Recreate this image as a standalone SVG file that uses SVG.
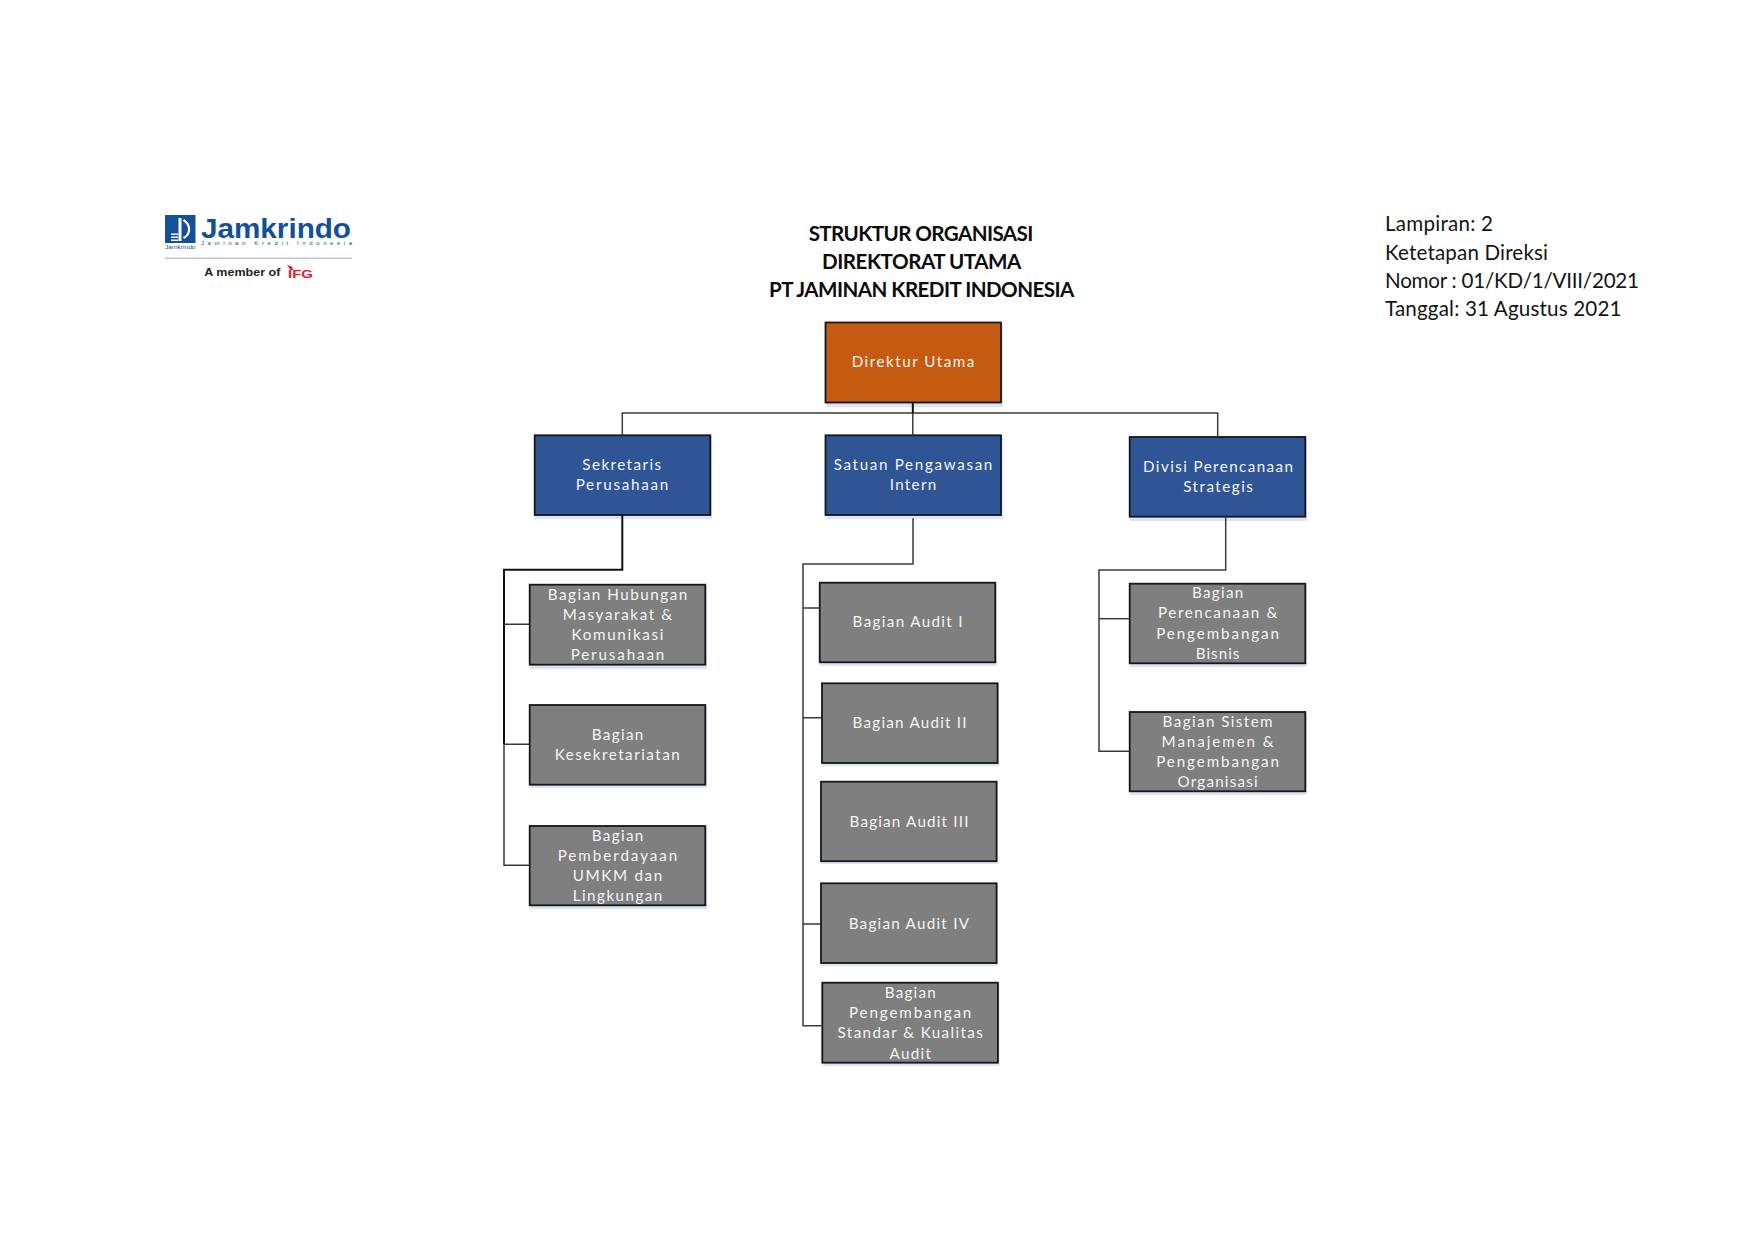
<svg xmlns="http://www.w3.org/2000/svg" width="1754" height="1241" viewBox="0 0 1754 1241">
<style>
text{font-family:"Lato","Carlito","Open Sans",sans-serif}
.lb{font-size:15.2px;fill:#f4f4f4;text-anchor:middle}
.title{font-size:20.6px;font-weight:700;fill:#0c0c0c;text-anchor:middle}
.note{font-size:20.6px;fill:#141414}
.box{stroke:#14171c;stroke-width:1.8}
.sh{fill:#dce6f2}
.org{fill:#c55a11}.blu{fill:#2f5597}.gry{fill:#7f7f7f}
.con{fill:none;stroke:#3a3a3a;stroke-width:1.5}
.conb{fill:none;stroke:#111;stroke-width:2}
</style>
<rect width="1754" height="1241" fill="#fff"/>
<g id="logo">
<rect x="165" y="215" width="30.5" height="28" fill="#12509c"/>
<path d="M178.5 218h3v23h-3z" fill="#fff"/>
<path d="M183.5 220C191 225 191 234 183.5 238" fill="none" stroke="#fff" stroke-width="2.2"/>
<path d="M171 233.5h7v1.5h-7zM171 236.5h7v1.5h-7zM171 239.5h7v1.5h-7z" fill="#fff"/>
<text x="165" y="249" font-size="6" fill="#12509c" textLength="30.5" lengthAdjust="spacingAndGlyphs" style="font-family:'Liberation Sans',sans-serif">Jamkrindo</text>
<text x="201" y="237.7" font-size="28" font-weight="700" fill="#12509c" textLength="150" lengthAdjust="spacingAndGlyphs" style="font-family:'Liberation Sans',sans-serif">Jamkrindo</text>
<text x="201" y="244.5" font-size="6" fill="#12509c" textLength="151" lengthAdjust="spacing" style="font-family:'Liberation Sans',sans-serif">Jaminan Kredit Indonesia</text>
<rect x="165" y="257.6" width="187" height="1.3" fill="#bdbdbd"/>
<text x="204.3" y="276" font-size="10.2" font-weight="700" fill="#222" textLength="76" lengthAdjust="spacingAndGlyphs" style="font-family:'Liberation Sans',sans-serif">A member of</text>
<path d="M287 265l5 1.5l1 3.5h-2.5z" fill="#e5202e"/>
<text x="288" y="277.7" font-size="11.5" font-weight="700" fill="#e5202e" textLength="25" lengthAdjust="spacingAndGlyphs" style="font-family:'Liberation Sans',sans-serif">IFG</text>
</g>
<g id="title">
<text class="title" x="921" y="240.7" textLength="224.7">STRUKTUR ORGANISASI</text>
<text class="title" x="921.7" y="269" textLength="199.3">DIREKTORAT UTAMA</text>
<text class="title" x="921.7" y="296.7" textLength="305.3">PT JAMINAN KREDIT INDONESIA</text>
</g>
<g id="note">
<text class="note" x="1385" y="231" textLength="108">Lampiran: 2</text>
<text class="note" x="1385" y="259.6" textLength="163">Ketetapan Direksi</text>
<text class="note" x="1385" y="288" textLength="254">Nomor : 01/KD/1/VIII/2021</text>
<text class="note" x="1385" y="316" textLength="236.5">Tanggal: 31 Agustus 2021</text>
</g>
<g id="direktur-utama">
<rect class="sh" x="826" y="323" width="177" height="84"/><rect class="box org" x="825.5" y="322.5" width="175.5" height="80"/>
<text class="lb" x="913" y="366.7" textLength="122.7">Direktur Utama</text>
</g>
<g id="sekretaris-perusahaan">
<rect class="sh" x="535" y="436" width="177" height="83"/><rect class="box blu" x="534.7" y="435.3" width="175.6" height="79.7"/>
<text class="lb" x="621.7" y="470.3" textLength="78.7">Sekretaris</text>
<text class="lb" x="622" y="490.3" textLength="92.7">Perusahaan</text>
</g>
<g id="satuan-pengawasan-intern">
<rect class="sh" x="826" y="436" width="177" height="83"/><rect class="box blu" x="825.5" y="435.3" width="175.5" height="79.7"/>
<text class="lb" x="913" y="470.3" textLength="158.7">Satuan Pengawasan</text>
<text class="lb" x="913" y="490.3" textLength="46.7">Intern</text>
</g>
<g id="divisi-perencanaan-strategis">
<rect class="sh" x="1130" y="438" width="177" height="83"/><rect class="box blu" x="1129.7" y="437" width="175.6" height="79.7"/>
<text class="lb" x="1218" y="471.7" textLength="150">Divisi Perencanaan</text>
<text class="lb" x="1218" y="491.7" textLength="69.7">Strategis</text>
</g>
<g id="bagian-hubungan">
<rect class="sh" x="530" y="586" width="177" height="83"/><rect class="box gry" x="529.7" y="584.7" width="175.6" height="80"/>
<text class="lb" x="617.5" y="599.7" textLength="139.7">Bagian Hubungan</text>
<text class="lb" x="617.5" y="619.7" textLength="109.3">Masyarakat &amp;</text>
<text class="lb" x="617.5" y="639.7" textLength="92">Komunikasi</text>
<text class="lb" x="617.5" y="659.7" textLength="93.7">Perusahaan</text>
</g>
<g id="bagian-kesekretariatan">
<rect class="sh" x="530" y="706" width="177" height="82"/><rect class="box gry" x="529.7" y="705" width="175.6" height="79.7"/>
<text class="lb" x="617.5" y="739.7" textLength="51.7">Bagian</text>
<text class="lb" x="617.2" y="759.7" textLength="125">Kesekretariatan</text>
</g>
<g id="bagian-pemberdayaan">
<rect class="sh" x="530" y="827" width="177" height="82"/><rect class="box gry" x="529.7" y="826" width="175.6" height="79.3"/>
<text class="lb" x="617.5" y="840.7" textLength="51.7">Bagian</text>
<text class="lb" x="617.5" y="860.7" textLength="119.7">Pemberdayaan</text>
<text class="lb" x="617.5" y="880.7" textLength="89.7">UMKM dan</text>
<text class="lb" x="617.5" y="900.7" textLength="89.7">Lingkungan</text>
</g>
<g id="bagian-audit-1">
<rect class="sh" x="820" y="584" width="177" height="82"/><rect class="box gry" x="819.7" y="582.7" width="175.6" height="79.6"/>
<text class="lb" x="907.6" y="627.3" textLength="110">Bagian Audit I</text>
</g>
<g id="bagian-audit-2">
<rect class="sh" x="822" y="684" width="177" height="82"/><rect class="box gry" x="822" y="683.3" width="175.6" height="79.7"/>
<text class="lb" x="909.6" y="728.3" textLength="114">Bagian Audit II</text>
</g>
<g id="bagian-audit-3">
<rect class="sh" x="821" y="782" width="177" height="82"/><rect class="box gry" x="821" y="781.7" width="175.6" height="79.5"/>
<text class="lb" x="909" y="827" textLength="119">Bagian Audit III</text>
</g>
<g id="bagian-audit-4">
<rect class="sh" x="821" y="884" width="177" height="82"/><rect class="box gry" x="821" y="883.3" width="175.6" height="79.7"/>
<text class="lb" x="908.8" y="929.3" textLength="120.3">Bagian Audit IV</text>
</g>
<g id="bagian-pengembangan-standar">
<rect class="sh" x="822.5" y="984" width="177" height="82"/><rect class="box gry" x="822.3" y="982.7" width="175.6" height="80"/>
<text class="lb" x="910.2" y="998.3" textLength="51">Bagian</text>
<text class="lb" x="910.2" y="1018.3" textLength="122.3">Pengembangan</text>
<text class="lb" x="910.2" y="1038.3" textLength="145.3">Standar &amp; Kualitas</text>
<text class="lb" x="910.2" y="1058.7" textLength="41.3">Audit</text>
</g>
<g id="bagian-perencanaan-bisnis">
<rect class="sh" x="1130" y="585" width="177" height="82"/><rect class="box gry" x="1129.7" y="583.7" width="175.6" height="79.6"/>
<text class="lb" x="1217.6" y="598.3" textLength="51.3">Bagian</text>
<text class="lb" x="1217.6" y="618.3" textLength="119.3">Perencanaan &amp;</text>
<text class="lb" x="1217.6" y="638.7" textLength="122.7">Pengembangan</text>
<text class="lb" x="1217.6" y="658.7" textLength="43.7">Bisnis</text>
</g>
<g id="bagian-sistem-manajemen">
<rect class="sh" x="1130" y="713" width="177" height="82"/><rect class="box gry" x="1129.7" y="712" width="175.6" height="79.3"/>
<text class="lb" x="1217.6" y="727" textLength="110">Bagian Sistem</text>
<text class="lb" x="1217.6" y="747" textLength="112">Manajemen &amp;</text>
<text class="lb" x="1217.6" y="767" textLength="122.7">Pengembangan</text>
<text class="lb" x="1217.6" y="787" textLength="80.3">Organisasi</text>
</g>
<g id="connectors">
<path class="con" d="M622.3 435V413H1217.7V437"/>
<path class="conb" d="M912.8 403V413"/>
<path class="con" d="M912.8 413V435"/>
<path class="conb" d="M622.3 515V569.7H504V744.3"/>
<path class="con" d="M504 744.3V865.3H529"/>
<path class="con" d="M504 624.3H529M504 744.3H529"/>
<path class="con" d="M913 518.3V564H803V1025.7H821.5"/>
<path class="con" d="M803 608H819M803 717.7H821.2M803 924H820.2"/>
<path class="con" d="M1225.7 516.7V570H1099V751.3H1129"/>
<path class="con" d="M1099 618.7H1129"/>
</g>
</svg>
